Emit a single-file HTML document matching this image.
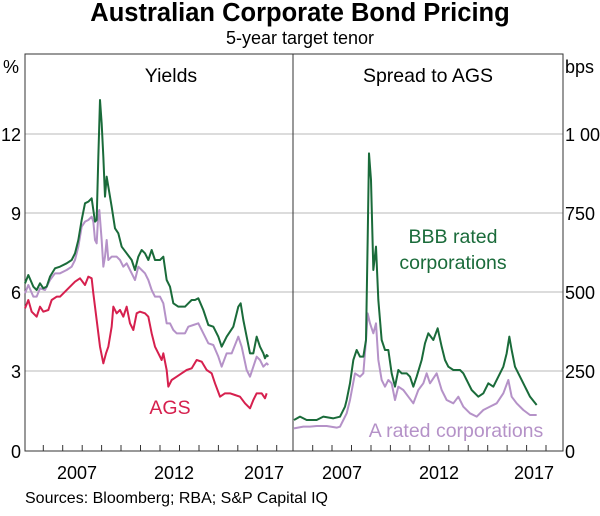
<!DOCTYPE html>
<html><head><meta charset="utf-8"><style>
body{margin:0;background:#fff;width:600px;height:511px;overflow:hidden}
svg text{font-family:"Liberation Sans",Arial,sans-serif}
</style></head><body>
<svg width="600" height="511" viewBox="0 0 600 511">
<text x="300" y="21" text-anchor="middle" font-size="25.5" font-weight="bold" fill="#000">Australian Corporate Bond Pricing</text>
<text x="300" y="44" text-anchor="middle" font-size="18" fill="#000">5-year target tenor</text>
<g stroke="#c8c8c8" stroke-width="1.3">
<line x1="25" y1="134" x2="563" y2="134"/><line x1="25" y1="213" x2="563" y2="213"/>
<line x1="25" y1="292" x2="563" y2="292"/><line x1="25" y1="371" x2="563" y2="371"/>
</g>
<rect x="25" y="54" width="538" height="397" fill="none" stroke="#333" stroke-width="1"/>
<line x1="293" y1="54" x2="293" y2="451" stroke="#333"/>
<g stroke="#333">
<line x1="43.3" y1="451" x2="43.3" y2="445"/><line x1="62.7" y1="451" x2="62.7" y2="445"/><line x1="82.2" y1="451" x2="82.2" y2="445"/><line x1="101.6" y1="451" x2="101.6" y2="445"/><line x1="121" y1="451" x2="121" y2="445"/><line x1="140.5" y1="451" x2="140.5" y2="445"/><line x1="160" y1="451" x2="160" y2="445"/><line x1="179.5" y1="451" x2="179.5" y2="445"/><line x1="199" y1="451" x2="199" y2="445"/><line x1="218.4" y1="451" x2="218.4" y2="445"/><line x1="237.8" y1="451" x2="237.8" y2="445"/><line x1="257.3" y1="451" x2="257.3" y2="445"/><line x1="276.7" y1="451" x2="276.7" y2="445"/>
<line x1="312.7" y1="451" x2="312.7" y2="445"/><line x1="332" y1="451" x2="332" y2="445"/><line x1="351.5" y1="451" x2="351.5" y2="445"/><line x1="371" y1="451" x2="371" y2="445"/><line x1="390.4" y1="451" x2="390.4" y2="445"/><line x1="409.9" y1="451" x2="409.9" y2="445"/><line x1="429.3" y1="451" x2="429.3" y2="445"/><line x1="448.8" y1="451" x2="448.8" y2="445"/><line x1="468.2" y1="451" x2="468.2" y2="445"/><line x1="487.7" y1="451" x2="487.7" y2="445"/><line x1="507.1" y1="451" x2="507.1" y2="445"/><line x1="526.6" y1="451" x2="526.6" y2="445"/><line x1="546" y1="451" x2="546" y2="445"/>
</g>
<g font-size="18" fill="#000">
<text x="3" y="73">%</text>
<text x="21" y="141" text-anchor="end">12</text>
<text x="21" y="220" text-anchor="end">9</text>
<text x="21" y="299" text-anchor="end">6</text>
<text x="21" y="378" text-anchor="end">3</text>
<text x="21" y="458" text-anchor="end">0</text>
<text x="565" y="73">bps</text>
<text x="565" y="141">1 000</text>
<text x="565" y="220">750</text>
<text x="565" y="299">500</text>
<text x="565" y="378">250</text>
<text x="565" y="458">0</text>
<text x="77" y="479" text-anchor="middle">2007</text>
<text x="174" y="479" text-anchor="middle">2012</text>
<text x="264" y="479" text-anchor="middle">2017</text>
<text x="342" y="479" text-anchor="middle">2007</text>
<text x="439" y="479" text-anchor="middle">2012</text>
<text x="534" y="479" text-anchor="middle">2017</text>
</g>
<g font-size="19.5" fill="#000">
<text x="171" y="82" text-anchor="middle">Yields</text>
<text x="428" y="82" text-anchor="middle">Spread to AGS</text>
</g>
<text x="170" y="414" text-anchor="middle" font-size="19.5" fill="#d6204e">AGS</text>
<text x="453" y="243" text-anchor="middle" font-size="19.5" fill="#1a6b3a">BBB rated</text>
<text x="453" y="269" text-anchor="middle" font-size="19.5" fill="#1a6b3a">corporations</text>
<text x="456" y="437" text-anchor="middle" font-size="19.5" fill="#b592c8">A rated corporations</text>
<text x="25" y="503" font-size="16" fill="#000">Sources: Bloomberg; RBA; S&amp;P Capital IQ</text>
<g transform="translate(0,40) scale(0.33333)" fill="none" stroke-width="2" stroke-linejoin="round">
<polyline vector-effect="non-scaling-stroke" stroke="#b592c8" points="75,760 85,735 100,770 110,770 120,745 135,750 150,720 165,700 180,700 200,690 215,680 225,660 235,620 245,560 255,545 265,540 275,530 280,545 285,600 290,610 295,520 298,510 305,600 310,680 315,650 320,600 325,660 335,650 350,650 360,660 370,680 380,670 395,700 405,720 415,680 425,690 435,700 445,720 455,750 465,770 480,770 490,790 500,850 510,850 520,870 530,880 545,880 555,880 565,860 580,855 595,850 610,880 625,910 640,915 655,950 665,980 680,940 695,940 715,890 725,920 740,990 750,1010 760,980 770,950 780,960 790,980 800,970 805,975"/>
<polyline vector-effect="non-scaling-stroke" stroke="#1a6b3a" points="75,730 85,705 100,740 110,750 120,730 130,745 140,740 150,710 165,685 180,680 200,670 215,660 225,640 235,600 245,540 255,490 265,485 275,475 280,510 285,545 290,540 295,350 300,180 305,250 310,350 315,470 320,410 325,440 335,500 345,565 355,580 365,620 380,640 395,660 405,690 415,650 425,630 435,640 445,660 455,630 465,660 480,660 490,650 500,720 510,740 520,790 535,800 555,800 565,790 575,780 585,780 595,775 610,810 625,855 640,860 655,890 665,920 680,890 700,860 715,800 722,790 730,840 740,890 750,940 760,940 770,890 780,920 790,940 795,955 800,945 805,950"/>
<polyline vector-effect="non-scaling-stroke" stroke="#d6204e" points="75,805 85,780 95,815 110,830 120,800 130,815 145,810 155,780 170,770 180,770 195,755 210,740 225,725 240,715 255,735 265,710 275,715 280,760 290,840 300,920 310,970 318,940 325,920 335,860 340,800 350,820 360,810 370,830 380,800 390,850 400,870 410,820 420,815 435,820 445,830 455,880 465,920 475,940 485,960 490,940 500,990 505,1040 515,1020 530,1010 545,1000 560,990 575,985 590,960 605,965 620,990 635,1000 645,1030 660,1070 675,1060 690,1060 705,1065 720,1070 735,1090 750,1105 760,1080 770,1060 785,1060 795,1075 800,1060"/>
</g>
<g transform="translate(290,40) scale(0.33333)" fill="none" stroke-width="2" stroke-linejoin="round">
<polyline vector-effect="non-scaling-stroke" stroke="#b592c8" points="12,1165 40,1160 60,1160 80,1158 110,1158 140,1163 150,1160 160,1140 170,1120 180,1080 195,1000 210,1010 220,1000 228,900 233,820 240,850 250,880 258,850 265,960 275,1020 285,1040 295,1020 305,1030 315,1080 325,1040 340,1050 355,1070 370,1090 385,1050 400,1030 410,1000 420,1030 440,1000 455,1050 470,1080 490,1090 505,1070 520,1100 540,1120 560,1130 580,1110 600,1100 620,1090 640,1060 655,1020 665,1070 680,1090 700,1110 720,1125 740,1125"/>
<polyline vector-effect="non-scaling-stroke" stroke="#1a6b3a" points="12,1140 30,1130 50,1140 80,1140 100,1130 130,1135 150,1130 165,1100 170,1080 180,1030 190,960 200,930 210,950 220,950 228,900 233,600 237,340 243,420 250,690 258,620 265,780 275,900 285,930 295,930 305,1000 315,1040 325,990 335,1000 350,1000 360,1010 370,1040 380,1010 395,960 405,910 415,880 430,900 443,865 455,920 465,960 475,980 490,990 510,990 520,1000 530,1020 545,1050 565,1070 580,1060 595,1030 610,1040 625,1010 640,980 650,940 658,890 665,930 675,980 690,1010 705,1040 710,1050 720,1070 740,1095"/>
</g>
</svg>
</body></html>
